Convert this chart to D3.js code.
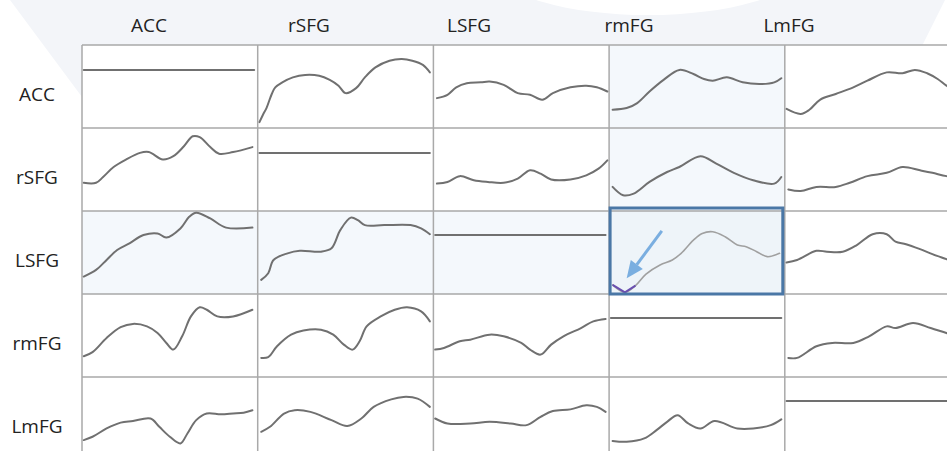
<!DOCTYPE html>
<html><head><meta charset="utf-8">
<script src="https://cdn.jsdelivr.net/npm/d3@7"></script>
<style>html,body{margin:0;padding:0;background:#fff;overflow:hidden}</style>
</head><body><svg id="c" width="947" height="451"></svg>
<script>
const regions = ["ACC", "rSFG", "LSFG", "rmFG", "LmFG"];
// level of the flat self-connection line in each diagonal cell
const selfLevel = [70, 70, 71, 71, 71];

// each series: [time %, value] pairs, row = source region, column = target region
const ACC_rSFG = [[1,7],[3,16],[5,24],[8,41],[10,49],[14,55],[20,61],[27,64],[35,63],[41,58],[46,51],[50,42],[56,48],[61,61],[67,73],[75,81],[82,83],[88,81],[94,76],[98,67]];
const ACC_LSFG = [[2,36],[8,40],[13,49],[19,54],[27,55],[32,56],[40,52],[48,42],[55,40],[62,34],[68,42],[78,49],[87,51],[93,49],[99,44]];
const ACC_rmFG = [[2,22],[10,24],[16,30],[23,44],[31,58],[40,70],[48,65],[54,59],[59,57],[67,61],[76,55],[86,53],[94,55],[98,60]];
const ACC_LmFG = [[1,23],[9,17],[14,22],[20,34],[29,41],[39,49],[47,57],[58,67],[67,66],[74,70],[81,66],[87,59],[92,51],[100,41]];

const rSFG_ACC = [[1,34],[8,34],[12,41],[18,53],[25,62],[33,70],[38,71],[46,62],[52,66],[58,78],[63,90],[67,89],[73,77],[78,69],[86,71],[97,77]];
const rSFG_LSFG = [[2,33],[8,35],[15,42],[23,37],[31,35],[40,34],[48,39],[55,49],[61,45],[67,38],[78,38],[87,43],[94,51],[99,61]];
const rSFG_rmFG = [[2,29],[8,19],[14,21],[23,35],[33,47],[40,53],[52,66],[61,57],[71,46],[82,37],[94,33],[98,41]];
const rSFG_LmFG = [[2,26],[9,24],[18,29],[29,29],[37,34],[47,42],[58,46],[67,53],[77,49],[84,46],[92,42],[100,40]];

const LSFG_ACC = [[1,21],[8,29],[14,41],[20,53],[27,61],[35,71],[43,73],[48,68],[56,79],[61,93],[65,98],[73,91],[82,80],[97,80]];
const LSFG_rSFG = [[2,17],[6,25],[9,41],[17,49],[24,52],[36,51],[42,55],[47,77],[53,92],[57,89],[61,83],[72,83],[87,83],[93,79],[98,72]];
const LSFG_rmFG = [[2,11],[9,2],[15,10],[21,24],[29,35],[36,41],[41,49],[48,65],[53,73],[59,75],[66,69],[73,59],[78,57],[84,51],[90,45],[97,49]];
const LSFG_LmFG = [[1,38],[7,41],[18,52],[24,51],[33,51],[41,59],[50,72],[58,72],[63,63],[69,60],[77,54],[84,48],[92,42],[100,36]];

const rmFG_ACC = [[1,25],[6,30],[14,47],[22,60],[29,64],[37,61],[43,53],[48,41],[52,33],[57,49],[62,73],[67,84],[71,81],[77,73],[86,73],[97,81]];
const rmFG_rSFG = [[2,23],[6,24],[11,37],[19,51],[26,56],[36,57],[43,51],[49,39],[54,33],[58,43],[62,61],[70,73],[78,81],[85,84],[93,79],[98,67]];
const rmFG_LSFG = [[1,33],[6,35],[15,43],[21,45],[32,51],[40,49],[50,41],[55,33],[61,27],[67,39],[74,49],[84,59],[91,67],[98,70]];
const rmFG_LmFG = [[2,23],[7,23],[18,37],[27,41],[39,41],[48,49],[58,61],[63,59],[73,65],[83,59],[92,53],[100,48]];

const LmFG_ACC = [[1,24],[6,28],[14,38],[22,45],[29,47],[39,50],[44,40],[50,28],[56,20],[60,32],[65,48],[71,56],[79,55],[86,56],[92,57],[97,60]];
const LmFG_rSFG = [[2,34],[7,40],[15,56],[21,60],[30,58],[42,48],[51,41],[59,50],[66,64],[76,73],[83,76],[91,74],[98,64]];
const LmFG_LSFG = [[1,50],[8,44],[21,44],[32,46],[44,44],[53,42],[61,52],[68,59],[78,61],[87,66],[93,64],[98,58]];
const LmFG_rmFG = [[2,23],[10,22],[20,26],[27,36],[33,46],[39,54],[45,44],[52,38],[60,47],[73,38],[82,38],[92,42],[98,49]];

const shadedCells = [[0,3],[1,3],[2,0],[2,1],[2,2]];
const selectedCell = [2,3];
// annotation in the selected cell: arrow from tail to tip, highlighted onset segment
const arrowTail = [30, 76];
const arrowTip = [10, 19];
const onsetCount = 3;

const series = [
  [null, ACC_rSFG, ACC_LSFG, ACC_rmFG, ACC_LmFG],
  [rSFG_ACC, null, rSFG_LSFG, rSFG_rmFG, rSFG_LmFG],
  [LSFG_ACC, LSFG_rSFG, null, LSFG_rmFG, LSFG_LmFG],
  [rmFG_ACC, rmFG_rSFG, rmFG_LSFG, null, rmFG_LmFG],
  [LmFG_ACC, LmFG_rSFG, LmFG_LSFG, LmFG_rmFG, null]
];

const W = 947, H = 451;
const svg = d3.select("#c");
const gridLeft = 82, gridTop = 45, cellW = 175.7, cellH = 83;

// background decoration
svg.append("rect").attr("width", W).attr("height", H).attr("fill", "#fff");
svg.append("path").attr("d", "M10,0 L945,0 L915,60 L82,60 L82,97 Z").attr("fill", "#f3f5f9");
svg.append("ellipse").attr("cx", 648).attr("cy", -30).attr("rx", 150).attr("ry", 45).attr("fill", "#fff");

const xb = d3.scaleBand().domain(d3.range(5)).range([gridLeft, gridLeft + 5 * cellW]);
const yb = d3.scaleBand().domain(d3.range(5)).range([gridTop, gridTop + 5 * cellH]);

// cell backgrounds
for (let r = 0; r < 5; r++) for (let c = 0; c < 5; c++) {
  const shaded = shadedCells.some(d => d[0] === r && d[1] === c);
  const sel = selectedCell[0] === r && selectedCell[1] === c;
  svg.append("rect").attr("x", xb(c)).attr("y", yb(r)).attr("width", cellW).attr("height", cellH)
    .attr("fill", sel ? "#eef4f9" : shaded ? "#f4f8fc" : "#fff");
}

// grid lines
const g = svg.append("g").attr("stroke", "#a9a9a9").attr("stroke-width", 1.5);
d3.range(5).forEach(i => {
  g.append("line").attr("x1", gridLeft).attr("x2", W).attr("y1", yb(i)).attr("y2", yb(i));
  g.append("line").attr("x1", xb(i)).attr("x2", xb(i)).attr("y1", gridTop).attr("y2", H);
});

// curves
for (let r = 0; r < 5; r++) for (let c = 0; c < 5; c++) {
  const x = d3.scaleLinear().domain([0, 100]).range([xb(c), xb(c) + cellW]);
  const y = d3.scaleLinear().domain([0, 100]).range([yb(r) + cellH, yb(r)]);
  const line = d3.line().x(d => x(d[0])).y(d => y(d[1])).curve(d3.curveCatmullRom.alpha(0.5));
  const sel = selectedCell[0] === r && selectedCell[1] === c;
  const data = series[r][c] || [[1, selfLevel[r]], [98, selfLevel[r]]];
  svg.append("path").attr("d", line(data)).attr("fill", "none")
    .attr("stroke", sel ? "#a0a0a0" : "#707070").attr("stroke-width", sel ? 1.6 : 2)
    .attr("stroke-linejoin", "round").attr("stroke-linecap", "round");
  if (sel) {
    svg.append("path").attr("d", d3.line().x(d => x(d[0])).y(d => y(d[1]))(data.slice(0, onsetCount)))
      .attr("fill", "none").attr("stroke", "#6a4fb0").attr("stroke-width", 2);
    // selection box
    svg.append("rect").attr("x", xb(c) + 1).attr("y", yb(r) - 3).attr("width", cellW - 3).attr("height", cellH + 3)
      .attr("fill", "none").attr("stroke", "#4a77a6").attr("stroke-width", 3);
    // arrow
    const x1 = x(arrowTail[0]), y1 = y(arrowTail[1]), x2 = x(arrowTip[0]), y2 = y(arrowTip[1]);
    const ang = Math.atan2(y2 - y1, x2 - x1), L = 17, hw = 7.5;
    const bx = x2 - L * Math.cos(ang), by = y2 - L * Math.sin(ang);
    svg.append("line").attr("x1", x1).attr("y1", y1).attr("x2", bx).attr("y2", by)
      .attr("stroke", "#7aaee0").attr("stroke-width", 3);
    svg.append("path").attr("d", `M${x2},${y2} L${bx + hw * Math.sin(ang)},${by - hw * Math.cos(ang)} L${bx - hw * Math.sin(ang)},${by + hw * Math.cos(ang)} Z`)
      .attr("fill", "#7aaee0");
  }
}

// labels
const colX = d3.scaleLinear().domain([0, 4]).range([149, 789]);
svg.append("g").selectAll("text").data(regions).join("text")
  .attr("x", (d, i) => colX(i)).attr("y", 32).attr("text-anchor", "middle")
  .attr("font-family", "'Open Sans', sans-serif").attr("font-size", 19).attr("fill", "#222").text(d => d);
svg.append("g").selectAll("text").data(regions).join("text")
  .attr("x", 37).attr("y", (d, i) => yb(i) + cellH / 2 + 14).attr("text-anchor", "middle")
  .attr("font-family", "'Open Sans', sans-serif").attr("font-size", 19).attr("fill", "#222").text(d => d);
</script></body></html>
